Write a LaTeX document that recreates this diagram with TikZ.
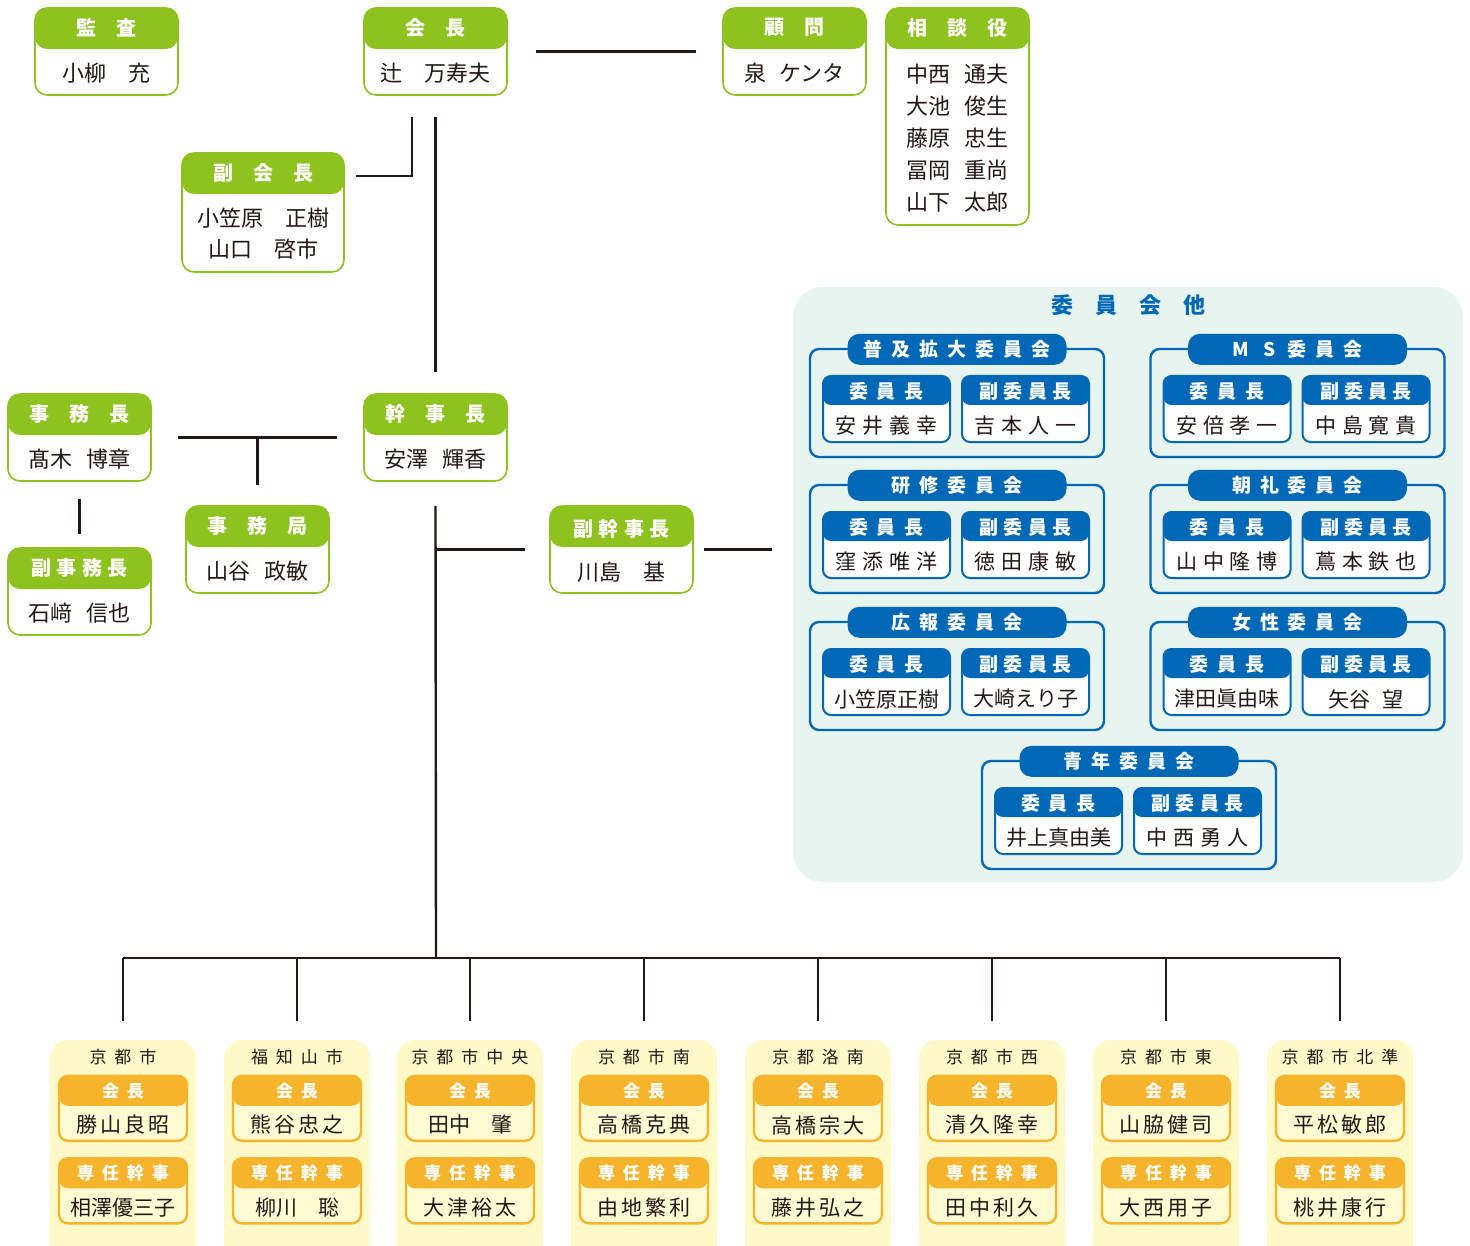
\documentclass[tikz,border=0pt]{standalone}
\usepackage{fontspec}
\setmainfont{Noto Sans CJK JP}
\newfontfamily\jpls[LetterSpace=28]{Noto Sans CJK JP}
\newfontfamily\jpsm[LetterSpace=15]{Noto Sans CJK JP}
\newfontfamily\jpwide[LetterSpace=47]{Noto Sans CJK JP}
\newcommand\jgap{\hspace{0.6em}}

\begin{document}
\begin{tikzpicture}[x=1pt,y=-1pt,
  gbox/.style={draw=grnColor,line width=1.6pt,fill=white,rounded corners=12pt,inner sep=0pt,
    minimum width=143pt,minimum height=87pt,
    path picture={\fill[grnColor] (path picture bounding box.north west) rectangle ([yshift=-41pt]path picture bounding box.north east);}},
  ghd/.style={text=white,inner sep=0pt,font=\bfseries\fontsize{20}{24}\selectfont},
  ghdb/.style={ghd,font=\jpls\bfseries\fontsize{20}{24}\selectfont},
  gnm/.style={text=inkColor,inner sep=0pt,font=\fontsize{22}{26}\selectfont},
  conn/.style={draw=inkColor,line width=2.4pt},
  pnl/.style={fill=mintColor,rounded corners=30pt,minimum width=670pt,minimum height=595pt,inner sep=0pt},
  cbox/.style={draw=bluColor,line width=2.4pt,rounded corners=9pt,minimum width=294pt,minimum height=108pt,inner sep=0pt},
  ctl/.style={fill=bluColor,text=white,rounded corners=12pt,minimum width=219pt,minimum height=31pt,inner sep=0pt,
    font=\jpwide\bfseries\fontsize{19}{22}\selectfont},
  ibox/.style={draw=bluColor,line width=2pt,fill=white,rounded corners=8pt,minimum width=127pt,minimum height=66pt,inner sep=0pt,
    path picture={\fill[bluColor] (path picture bounding box.north west) rectangle ([yshift=-29pt]path picture bounding box.north east);}},
  ihd/.style={text=white,inner sep=0pt,font=\jpwide\bfseries\fontsize{19}{22}\selectfont},
  ihdb/.style={ihd,font=\jpls\bfseries\fontsize{19}{22}\selectfont},
  inm/.style={text=inkColor,inner sep=0pt,font=\jpls\fontsize{21}{24}\selectfont},
  inmb/.style={inm,font=\normalfont\fontsize{21}{24}\selectfont},
  ypan/.style={fill=ylwColor,rounded corners=18pt,minimum width=146pt,minimum height=230pt,inner sep=0pt},
  ytl/.style={text=inkColor,inner sep=0pt,font=\jpwide\fontsize{17}{20}\selectfont},
  obox/.style={draw=orgColor,line width=2.4pt,fill=ylwbColor,rounded corners=9pt,minimum width=128pt,minimum height=65pt,inner sep=0pt,
    path picture={\fill[orgColor] (path picture bounding box.north west) rectangle ([yshift=-30pt]path picture bounding box.north east);}},
  ohd/.style={text=white,inner sep=0pt,font=\jpwide\bfseries\fontsize{17}{20}\selectfont},
  onm/.style={text=inkColor,inner sep=0pt,font=\jpsm\fontsize{21}{24}\selectfont},
  onmb/.style={onm,font=\normalfont\fontsize{21}{24}\selectfont}]
\definecolor{grnColor}{RGB}{141,194,31}
\definecolor{bluColor}{RGB}{0,104,183}
\definecolor{mintColor}{RGB}{232,244,239}
\definecolor{orgColor}{RGB}{246,180,45}
\definecolor{ylwColor}{RGB}{255,250,200}
\definecolor{ylwbColor}{RGB}{255,251,210}
\definecolor{inkColor}{RGB}{35,24,21}
\path[use as bounding box,fill=white] (0,0) rectangle (1470,1246);
\path[clip] (0,0) rectangle (1470,1246);

% top row
\node[gbox] (kansa) at (106.5,51.5) {};
\node[ghd] (kansaH) at ([yshift=-20.5pt]kansa.north) {監　査};
\node[gnm] (kansaN) at ([yshift=23pt]kansa.south) {小柳　充};

\node[gbox] (kaicho) at (435.5,51.5) {};
\node[ghd] (kaichoH) at ([yshift=-20.5pt]kaicho.north) {会　長};
\node[gnm] (kaichoN) at ([yshift=23pt]kaicho.south) {辻　万寿夫};

\node[gbox] (komon) at (794.5,51.5) {};
\node[ghd] (komonH) at ([yshift=-20.5pt]komon.north) {顧　問};
\node[gnm] (komonN) at ([yshift=23pt]komon.south) {泉\jgap ケンタ};

\node[gbox,minimum height=217pt] (sodan) at (957.5,116.5) {};
\node[ghd] (sodanH) at ([yshift=-20.5pt]sodan.north) {相　談　役};
\node[gnm,align=center,font=\fontsize{22}{32}\selectfont] (sodanN) at ([yshift=88pt]sodan.south)
  {中西\jgap 通夫\\大池\jgap 俊生\\藤原\jgap 忠生\\冨岡\jgap 重尚\\山下\jgap 太郎};

\node[gbox,minimum width=162pt,minimum height=119pt] (fukukaicho) at (263,212.5) {};
\node[ghd] (fukukaichoH) at ([yshift=-20.5pt]fukukaicho.north) {副　会　長};
\node[gnm,align=center,font=\fontsize{22}{31}\selectfont] (fukukaichoN) at ([yshift=39pt]fukukaicho.south)
  {小笠原　正樹\\山口　啓市};

% middle row
\node[gbox] (jimucho) at (79.5,437.5) {};
\node[ghd] (jimuchoH) at ([yshift=-20.5pt]jimucho.north) {事　務　長};
\node[gnm] (jimuchoN) at ([yshift=23pt]jimucho.south) {髙木\jgap 博章};

\node[gbox] (kanjicho) at (435.5,437.5) {};
\node[ghd] (kanjichoH) at ([yshift=-20.5pt]kanjicho.north) {幹　事　長};
\node[gnm] (kanjichoN) at ([yshift=23pt]kanjicho.south) {安澤\jgap 輝香};

\node[gbox] (jimukyoku) at (257.5,549.5) {};
\node[ghd] (jimukyokuH) at ([yshift=-20.5pt]jimukyoku.north) {事　務　局};
\node[gnm] (jimukyokuN) at ([yshift=23pt]jimukyoku.south) {山谷\jgap 政敏};

\node[gbox] (fukujimucho) at (79.5,591.5) {};
\node[ghdb] (fukujimuchoH) at ([yshift=-20.5pt]fukujimucho.north) {副事務長};
\node[gnm] (fukujimuchoN) at ([yshift=23pt]fukujimucho.south) {石﨑\jgap 信也};

\node[gbox] (fukukanji) at (621.5,549.5) {};
\node[ghdb] (fukukanjiH) at ([yshift=-23.5pt]fukukanji.north) {副幹事長};
\node[gnm] (fukukanjiN) at ([yshift=22pt]fukukanji.south) {川島　基};

% committees
\node[pnl] (iinkai) at (1128,584.5) {};
\node[text=bluColor,inner sep=0pt,font=\bfseries\fontsize{22}{26}\selectfont] (iinkaiT) at ([yshift=-18pt]iinkai.north) {委　員　会　他};

\node[cbox] (fukyu) at (957,403) {};
\node[ctl] (fukyuT) at ([yshift=-1.5pt]fukyu.north) {普及拡大委員会};
\node[ibox] (fukyuA) at ([xshift=-70.5pt,yshift=-6pt]fukyu.center) {};
\node[ihd] (fukyuAH) at ([yshift=-16pt]fukyuA.north) {委員長};
\node[inm] (fukyuAN) at ([yshift=17pt]fukyuA.south) {安井義幸};
\node[ibox] (fukyuB) at ([xshift=68.5pt,yshift=-6pt]fukyu.center) {};
\node[ihdb] (fukyuBH) at ([yshift=-16pt]fukyuB.north) {副委員長};
\node[inm] (fukyuBN) at ([yshift=17pt]fukyuB.south) {吉本人一};

\node[cbox] (ms) at (1297.5,403) {};
\node[ctl] (msT) at ([yshift=-1.5pt]ms.north) {M\hspace{14pt}S\hspace{12pt}委\hspace{9pt}員\hspace{9pt}会};
\node[ibox] (msA) at ([xshift=-70.5pt,yshift=-6pt]ms.center) {};
\node[ihd] (msAH) at ([yshift=-16pt]msA.north) {委員長};
\node[inm] (msAN) at ([yshift=17pt]msA.south) {安倍孝一};
\node[ibox] (msB) at ([xshift=68.5pt,yshift=-6pt]ms.center) {};
\node[ihdb] (msBH) at ([yshift=-16pt]msB.north) {副委員長};
\node[inm] (msBN) at ([yshift=17pt]msB.south) {中島寛貴};

\node[cbox] (kenshu) at (957,539) {};
\node[ctl] (kenshuT) at ([yshift=-1.5pt]kenshu.north) {研修委員会};
\node[ibox] (kenshuA) at ([xshift=-70.5pt,yshift=-6pt]kenshu.center) {};
\node[ihd] (kenshuAH) at ([yshift=-16pt]kenshuA.north) {委員長};
\node[inm] (kenshuAN) at ([yshift=17pt]kenshuA.south) {窪添唯洋};
\node[ibox] (kenshuB) at ([xshift=68.5pt,yshift=-6pt]kenshu.center) {};
\node[ihdb] (kenshuBH) at ([yshift=-16pt]kenshuB.north) {副委員長};
\node[inm] (kenshuBN) at ([yshift=17pt]kenshuB.south) {徳田康敏};

\node[cbox] (chorei) at (1297.5,539) {};
\node[ctl] (choreiT) at ([yshift=-1.5pt]chorei.north) {朝礼委員会};
\node[ibox] (choreiA) at ([xshift=-70.5pt,yshift=-6pt]chorei.center) {};
\node[ihd] (choreiAH) at ([yshift=-16pt]choreiA.north) {委員長};
\node[inm] (choreiAN) at ([yshift=17pt]choreiA.south) {山中隆博};
\node[ibox] (choreiB) at ([xshift=68.5pt,yshift=-6pt]chorei.center) {};
\node[ihdb] (choreiBH) at ([yshift=-16pt]choreiB.north) {副委員長};
\node[inm] (choreiBN) at ([yshift=17pt]choreiB.south) {蔦本鉄也};

\node[cbox] (koho) at (957,676) {};
\node[ctl] (kohoT) at ([yshift=-1.5pt]koho.north) {広報委員会};
\node[ibox] (kohoA) at ([xshift=-70.5pt,yshift=-6pt]koho.center) {};
\node[ihd] (kohoAH) at ([yshift=-16pt]kohoA.north) {委員長};
\node[inmb] (kohoAN) at ([yshift=17pt]kohoA.south) {小笠原正樹};
\node[ibox] (kohoB) at ([xshift=68.5pt,yshift=-6pt]koho.center) {};
\node[ihdb] (kohoBH) at ([yshift=-16pt]kohoB.north) {副委員長};
\node[inmb] (kohoBN) at ([yshift=17pt]kohoB.south) {大崎えり子};

\node[cbox] (josei) at (1297.5,676) {};
\node[ctl] (joseiT) at ([yshift=-1.5pt]josei.north) {女性委員会};
\node[ibox] (joseiA) at ([xshift=-70.5pt,yshift=-6pt]josei.center) {};
\node[ihd] (joseiAH) at ([yshift=-16pt]joseiA.north) {委員長};
\node[inmb] (joseiAN) at ([yshift=17pt]joseiA.south) {津田眞由味};
\node[ibox] (joseiB) at ([xshift=68.5pt,yshift=-6pt]josei.center) {};
\node[ihdb] (joseiBH) at ([yshift=-16pt]joseiB.north) {副委員長};
\node[inmb] (joseiBN) at ([yshift=17pt]joseiB.south) {矢谷\jgap 望};

\node[cbox] (seinen) at (1129,815) {};
\node[ctl] (seinenT) at ([yshift=-1.5pt]seinen.north) {青年委員会};
\node[ibox] (seinenA) at ([xshift=-70.5pt,yshift=-6pt]seinen.center) {};
\node[ihd] (seinenAH) at ([yshift=-16pt]seinenA.north) {委員長};
\node[inmb] (seinenAN) at ([yshift=17pt]seinenA.south) {井上真由美};
\node[ibox] (seinenB) at ([xshift=68.5pt,yshift=-6pt]seinen.center) {};
\node[ihdb] (seinenBH) at ([yshift=-16pt]seinenB.north) {副委員長};
\node[inm] (seinenBN) at ([yshift=17pt]seinenB.south) {中西勇人};

% branches
\node[ypan] (kyoto) at (123,1155) {};
\node[ytl] (kyotoT) at ([yshift=-17pt]kyoto.north) {京都市};
\node[obox] (kyotoA) at ([yshift=-68.5pt]kyoto.north) {};
\node[ohd] (kyotoAH) at ([yshift=-16pt]kyotoA.north) {会長};
\node[onm] (kyotoAN) at ([yshift=17pt]kyotoA.south) {勝山良昭};
\node[obox] (kyotoB) at ([yshift=-151pt]kyoto.north) {};
\node[ohd] (kyotoBH) at ([yshift=-16pt]kyotoB.north) {専任幹事};
\node[onmb] (kyotoBN) at ([yshift=17pt]kyotoB.south) {相澤優三子};

\node[ypan] (fukuchiyama) at (297,1155) {};
\node[ytl] (fukuchiyamaT) at ([yshift=-17pt]fukuchiyama.north) {福知山市};
\node[obox] (fukuchiyamaA) at ([yshift=-68.5pt]fukuchiyama.north) {};
\node[ohd] (fukuchiyamaAH) at ([yshift=-16pt]fukuchiyamaA.north) {会長};
\node[onm] (fukuchiyamaAN) at ([yshift=17pt]fukuchiyamaA.south) {熊谷忠之};
\node[obox] (fukuchiyamaB) at ([yshift=-151pt]fukuchiyama.north) {};
\node[ohd] (fukuchiyamaBH) at ([yshift=-16pt]fukuchiyamaB.north) {専任幹事};
\node[onmb] (fukuchiyamaBN) at ([yshift=17pt]fukuchiyamaB.south) {柳川　聡};

\node[ypan] (chuo) at (470,1155) {};
\node[ytl] (chuoT) at ([yshift=-17pt]chuo.north) {京都市中央};
\node[obox] (chuoA) at ([yshift=-68.5pt]chuo.north) {};
\node[ohd] (chuoAH) at ([yshift=-16pt]chuoA.north) {会長};
\node[onmb] (chuoAN) at ([yshift=17pt]chuoA.south) {田中　肇};
\node[obox] (chuoB) at ([yshift=-151pt]chuo.north) {};
\node[ohd] (chuoBH) at ([yshift=-16pt]chuoB.north) {専任幹事};
\node[onm] (chuoBN) at ([yshift=17pt]chuoB.south) {大津裕太};

\node[ypan] (minami) at (644,1155) {};
\node[ytl] (minamiT) at ([yshift=-17pt]minami.north) {京都市南};
\node[obox] (minamiA) at ([yshift=-68.5pt]minami.north) {};
\node[ohd] (minamiAH) at ([yshift=-16pt]minamiA.north) {会長};
\node[onm] (minamiAN) at ([yshift=17pt]minamiA.south) {高橋克典};
\node[obox] (minamiB) at ([yshift=-151pt]minami.north) {};
\node[ohd] (minamiBH) at ([yshift=-16pt]minamiB.north) {専任幹事};
\node[onm] (minamiBN) at ([yshift=17pt]minamiB.south) {由地繁利};

\node[ypan] (rakunan) at (818,1155) {};
\node[ytl] (rakunanT) at ([yshift=-17pt]rakunan.north) {京都洛南};
\node[obox] (rakunanA) at ([yshift=-68.5pt]rakunan.north) {};
\node[ohd] (rakunanAH) at ([yshift=-16pt]rakunanA.north) {会長};
\node[onm] (rakunanAN) at ([yshift=17pt]rakunanA.south) {高橋宗大};
\node[obox] (rakunanB) at ([yshift=-151pt]rakunan.north) {};
\node[ohd] (rakunanBH) at ([yshift=-16pt]rakunanB.north) {専任幹事};
\node[onm] (rakunanBN) at ([yshift=17pt]rakunanB.south) {藤井弘之};

\node[ypan] (nishi) at (992,1155) {};
\node[ytl] (nishiT) at ([yshift=-17pt]nishi.north) {京都市西};
\node[obox] (nishiA) at ([yshift=-68.5pt]nishi.north) {};
\node[ohd] (nishiAH) at ([yshift=-16pt]nishiA.north) {会長};
\node[onm] (nishiAN) at ([yshift=17pt]nishiA.south) {清久隆幸};
\node[obox] (nishiB) at ([yshift=-151pt]nishi.north) {};
\node[ohd] (nishiBH) at ([yshift=-16pt]nishiB.north) {専任幹事};
\node[onm] (nishiBN) at ([yshift=17pt]nishiB.south) {田中利久};

\node[ypan] (higashi) at (1166,1155) {};
\node[ytl] (higashiT) at ([yshift=-17pt]higashi.north) {京都市東};
\node[obox] (higashiA) at ([yshift=-68.5pt]higashi.north) {};
\node[ohd] (higashiAH) at ([yshift=-16pt]higashiA.north) {会長};
\node[onm] (higashiAN) at ([yshift=17pt]higashiA.south) {山脇健司};
\node[obox] (higashiB) at ([yshift=-151pt]higashi.north) {};
\node[ohd] (higashiBH) at ([yshift=-16pt]higashiB.north) {専任幹事};
\node[onm] (higashiBN) at ([yshift=17pt]higashiB.south) {大西用子};

\node[ypan] (kitajun) at (1340,1155) {};
\node[ytl] (kitajunT) at ([yshift=-17pt]kitajun.north) {京都市北準};
\node[obox] (kitajunA) at ([yshift=-68.5pt]kitajun.north) {};
\node[ohd] (kitajunAH) at ([yshift=-16pt]kitajunA.north) {会長};
\node[onm] (kitajunAN) at ([yshift=17pt]kitajunA.south) {平松敏郎};
\node[obox] (kitajunB) at ([yshift=-151pt]kitajun.north) {};
\node[ohd] (kitajunBH) at ([yshift=-16pt]kitajunB.north) {専任幹事};
\node[onm] (kitajunBN) at ([yshift=17pt]kitajunB.south) {桃井康行};

% connectors
\coordinate (bus) at (436,958);
\coordinate (jmk) at (jimukyoku.north |- jimucho.east);
\coordinate (pnlw) at (iinkai.west |- fukukanji.east);
\path[conn] ([xshift=28pt]kaicho.east) -- ([xshift=-26pt]komon.west);
\path[conn] ([xshift=11pt,yshift=36.5pt]fukukaicho.east) -| ([xshift=-23.5pt,yshift=-21pt]kaicho.south);
\path[conn] ([yshift=-21pt]kaicho.south) -- ([yshift=21pt]kanjicho.north);
\path[conn] ([xshift=26pt]jimucho.east) -- ([xshift=-26pt]kanjicho.west);
\path[conn] (jmk) -- ([yshift=20pt]jimukyoku.north);
\path[conn] ([yshift=-17pt]jimucho.south) -- ([yshift=13pt]fukujimucho.north);
\path[conn] ([yshift=-24pt]kanjicho.south) -- (bus);
\path[conn] (fukukanji.west -| bus) -- ([xshift=-24pt]fukukanji.west);
\path[conn] ([xshift=10pt]fukukanji.east) -- ([xshift=-21pt]pnlw);
\path[conn] ([yshift=82pt]kyoto.north) -- ([yshift=82pt]kitajun.north);
\path[conn] ([yshift=82pt]kyoto.north) -- ([yshift=19pt]kyoto.north);
\path[conn] ([yshift=82pt]fukuchiyama.north) -- ([yshift=19pt]fukuchiyama.north);
\path[conn] ([yshift=82pt]chuo.north) -- ([yshift=19pt]chuo.north);
\path[conn] ([yshift=82pt]minami.north) -- ([yshift=19pt]minami.north);
\path[conn] ([yshift=82pt]rakunan.north) -- ([yshift=19pt]rakunan.north);
\path[conn] ([yshift=82pt]nishi.north) -- ([yshift=19pt]nishi.north);
\path[conn] ([yshift=82pt]higashi.north) -- ([yshift=19pt]higashi.north);
\path[conn] ([yshift=82pt]kitajun.north) -- ([yshift=19pt]kitajun.north);
\end{tikzpicture}
\end{document}
